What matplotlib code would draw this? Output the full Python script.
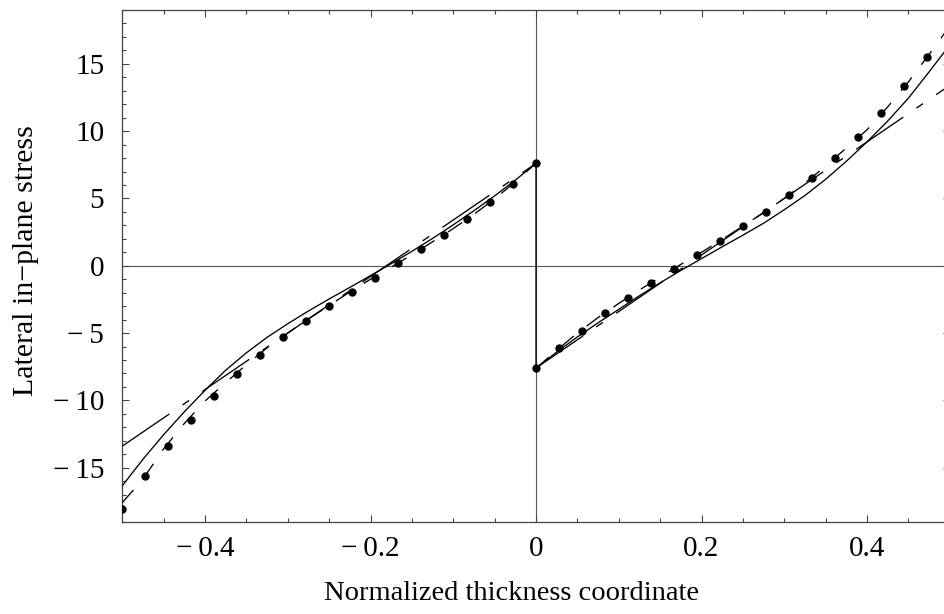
import numpy as np
import matplotlib
matplotlib.use("Agg")
import matplotlib.pyplot as plt
from matplotlib.ticker import MultipleLocator, FixedLocator

plt.rcParams['font.family'] = ['Liberation Serif', 'DejaVu Serif']
plt.rcParams['lines.scale_dashes'] = False

# sample points (curves read every 0.025, dots every 1/36)
x_left = np.linspace(-0.5, 0.0, 21)
x_right = np.linspace(0.0, 0.5, 21)
dot_x_left = np.linspace(-0.5, 0.0, 19)
dot_x_right = np.linspace(0.0, 0.5, 19)

# solid curve
a_left = [-16.35, -14.38, -12.55, -10.85, -9.26, -7.76, -6.47, -5.32, -4.31, -3.36,
          -2.47, -1.61, -0.73, 0.15, 1.07, 2.03, 3.04, 4.09, 5.19, 6.36, 7.62]
a_right = [-7.62, -6.41, -5.29, -4.24, -3.24, -2.23, -1.27, -0.35, 0.53, 1.41,
           2.27, 3.16, 4.16, 5.22, 6.42, 7.76, 9.2, 10.75, 12.45, 14.4, 16.4]

# short dashed curve
b_left = [-17.6, -15.85, -13.6, -11.72, -10.05, -8.68, -7.35, -6.1, -5.0, -3.95,
          -2.95, -1.95, -1.0, -0.1, 0.82, 1.78, 2.76, 3.82, 4.97, 6.23, 7.62]
b_right = [-7.62, -6.28, -5.0, -3.85, -2.8, -1.8, -0.85, 0.1, 1.0, 1.95,
           2.95, 3.95, 5.0, 6.15, 7.4, 8.75, 10.1, 11.8, 13.65, 15.7, 17.8]

# long dashed straight line
c_x_left = [-0.5, 0.0]
c_left = [-13.4, 7.6]
c_x_right = [0.0, 0.5]
c_right = [-7.6, 13.4]

# data points
dots_left = [-18.1, -15.6, -13.4, -11.44, -9.68, -8.07, -6.61, -5.32, -4.11, -3.02,
             -1.93, -0.89, 0.17, 1.21, 2.3, 3.44, 4.7, 6.09, 7.62]
dots_right = [-7.62, -6.14, -4.83, -3.54, -2.38, -1.29, -0.25, 0.79, 1.83, 2.92,
              4.01, 5.22, 6.54, 7.97, 9.58, 11.37, 13.35, 15.5, 18.0]

xticks = [-0.4, -0.2, 0.0, 0.2, 0.4]
xticklabels = ['\u2212\u20090.4', '\u2212\u20090.2', '0', '0.2', '0.4']
yticks = [-15, -10, -5, 0, 5, 10, 15]
yticklabels = ['\u2212\u200915', '\u2212\u200910', '\u2212\u20095', '0', '5', '10', '15']

fig = plt.figure(figsize=(9.44, 6.14), dpi=100)
ax = fig.add_axes([122.25 / 944, 92.5 / 614, 827.5 / 944, 511.5 / 614])

ax.axhline(0, color='#555555', lw=0.8, zorder=1)
ax.axvline(0, color='#555555', lw=0.8, zorder=1)

ax.plot(np.concatenate([x_left, x_right]), a_left + a_right, color='black', lw=0.95, zorder=3)
ax.plot(x_left, b_left, color='black', lw=0.95, ls=(0, (12.2, 11.5)), zorder=3)
ax.plot(x_right, b_right, color='black', lw=0.95, ls=(0, (12.2, 11.5)), zorder=3)
ax.plot(c_x_left, c_left, color='black', lw=0.95, ls=(0, (41, 11.5, 5.8, 11.5)), zorder=3)
ax.plot(c_x_right, c_right, color='black', lw=0.95, ls=(0, (41, 11.5, 5.8, 11.5)), zorder=3)
ax.plot(dot_x_left, dots_left, 'o', color='black', ms=5, zorder=4)
ax.plot(dot_x_right, dots_right, 'o', color='black', ms=5, zorder=4)

ax.set_xlim(-0.5, 0.5)
ax.set_ylim(-19, 19)
ax.xaxis.set_major_locator(FixedLocator(xticks))
ax.set_xticklabels(xticklabels)
ax.xaxis.set_minor_locator(MultipleLocator(0.05))
ax.yaxis.set_major_locator(FixedLocator(yticks))
ax.set_yticklabels(yticklabels)
ax.yaxis.set_minor_locator(MultipleLocator(1))
ax.tick_params(which='both', direction='in', top=True, right=True, color='#444444',
               labelsize=21, width=0.8)
ax.tick_params(which='major', length=5)
ax.tick_params(which='minor', length=3)
ax.tick_params(axis='y', pad=13)
ax.tick_params(axis='x', pad=10.5)
for s in ax.spines.values():
    s.set_color('#444444')
    s.set_linewidth(0.9)

ax.set_xlabel('Normalized thickness coordinate', fontsize=20.5)
ax.set_ylabel('Lateral in\u2212plane stress', fontsize=21.5)
ax.xaxis.set_label_coords(0.47, -0.116)
ax.yaxis.set_label_coords(-0.1, 0.51)

fig.savefig('out.png', dpi=100)
